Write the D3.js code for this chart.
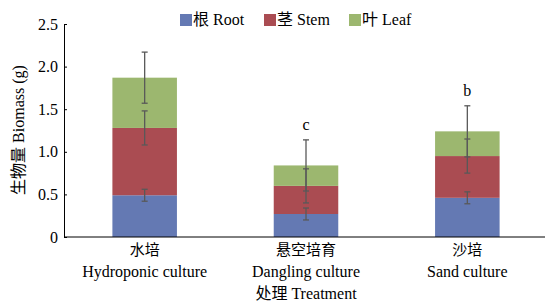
<!DOCTYPE html>
<html>
<head>
<meta charset="utf-8">
<script src="https://cdn.jsdelivr.net/npm/d3@7"></script>
<style>
    body { margin: 0; background: #fff; }
    svg text { font-family: "Liberation Serif", "Noto Sans CJK SC", serif; fill: #000; }
</style>
</head>
<body>
<div id="chart"></div>
<script>
// data
var treatmentsCn = ["水培", "悬空培育", "沙培"];
var treatmentsEn = ["Hydroponic culture", "Dangling culture", "Sand culture"];
var seriesNames = ["根 Root", "茎 Stem", "叶 Leaf"];
var rootVals = [0.49, 0.27, 0.46];
var stemVals = [0.79, 0.33, 0.49];
var leafVals = [0.59, 0.24, 0.29];
var rootErr = [0.07, 0.07, 0.07];
var stemErr = [0.2, 0.2, 0.2];
var leafErr = [0.3, 0.3, 0.3];
var sigLetters = ["", "c", "b"];
var yTicks = [0, 0.5, 1.0, 1.5, 2.0, 2.5];

var colors = ["#6479b3", "#aa4c52", "#9cb76f"];

var width = 545, height = 301;
var margin = {left: 64, top: 24, bottom: 64};

var svg = d3.select("#chart").append("svg")
    .attr("width", width)
    .attr("height", height);

// build rows for stacking
var rows = treatmentsCn.map(function (t, i) {
    return {
        key: t,
        root: rootVals[i], stem: stemVals[i], leaf: leafVals[i],
        err: [rootErr[i], stemErr[i], leafErr[i]]
    };
});
var stack = d3.stack().keys(["root", "stem", "leaf"]);
var series = stack(rows);

var x = d3.scaleBand()
    .domain(treatmentsCn)
    .range([margin.left, margin.left + 484])
    .padding(0);
var y = d3.scaleLinear()
    .domain([0, 2.5])
    .range([height - margin.bottom, margin.top]);

var barW = x.bandwidth() * 0.4;

// bars
svg.selectAll("g.layer")
    .data(series)
    .enter().append("g")
    .attr("class", "layer")
    .attr("fill", function (d, i) { return colors[i]; })
    .selectAll("rect")
    .data(function (d) { return d; })
    .enter().append("rect")
    .attr("x", function (d) { return x(d.data.key) + x.bandwidth() / 2 - barW / 2; })
    .attr("width", barW)
    .attr("y", function (d) { return y(d[1]); })
    .attr("height", function (d) { return y(d[0]) - y(d[1]); });

// error bars at top of each segment
series.forEach(function (layer, li) {
    layer.forEach(function (d) {
        var cx = x(d.data.key) + x.bandwidth() / 2;
        var e = d.data.err[li];
        var g = svg.append("g")
            .attr("stroke", "#595959")
            .attr("stroke-width", 1.3);
        g.append("line")
            .attr("x1", cx).attr("x2", cx)
            .attr("y1", y(d[1] + e)).attr("y2", y(d[1] - e));
        [d[1] + e, d[1] - e].forEach(function (v) {
            g.append("line")
                .attr("x1", cx - 3).attr("x2", cx + 3)
                .attr("y1", y(v)).attr("y2", y(v));
        });
    });
});

// significance letters
var topLayer = series[2];
topLayer.forEach(function (d, i) {
    if (!sigLetters[i]) return;
    svg.append("text")
        .attr("x", x(d.data.key) + x.bandwidth() / 2)
        .attr("y", y(d[1] + leafErr[i]) - 10)
        .attr("text-anchor", "middle")
        .style("font-size", "16px")
        .text(sigLetters[i]);
});

// y axis
var yAxis = d3.axisLeft(y)
    .tickValues(yTicks)
    .tickSizeInner(-3)
    .tickSizeOuter(0)
    .tickPadding(6)
    .tickFormat(function (d) { return d === 0 ? "0" : d3.format(".1f")(d); });
var yg = svg.append("g")
    .attr("transform", "translate(" + margin.left + ",0)")
    .call(yAxis);
yg.selectAll("text").style("font-size", "16px");
yg.selectAll("line, path").attr("stroke", "#000");

// x axis line
svg.append("line")
    .attr("x1", margin.left).attr("x2", width)
    .attr("y1", y(0)).attr("y2", y(0))
    .attr("stroke", "#000");

// x labels
treatmentsCn.forEach(function (t, i) {
    var cx = x(t) + x.bandwidth() / 2;
    svg.append("text")
        .attr("x", cx).attr("y", 255)
        .attr("text-anchor", "middle")
        .style("font-size", "15px")
        .text(t);
    svg.append("text")
        .attr("x", cx).attr("y", 277)
        .attr("text-anchor", "middle")
        .style("font-size", "16px")
        .text(treatmentsEn[i]);
});

svg.append("text")
    .attr("x", x(treatmentsCn[1]) + x.bandwidth() / 2)
    .attr("y", 299)
    .attr("text-anchor", "middle")
    .style("font-size", "16px")
    .text("处理 Treatment");

// y title
svg.append("text")
    .attr("transform", "translate(24,130) rotate(-90)")
    .attr("text-anchor", "middle")
    .style("font-size", "16px")
    .text("生物量 Biomass (g)");

// legend
var legendX = [180, 264, 349];
seriesNames.forEach(function (s, i) {
    svg.append("rect")
        .attr("x", legendX[i]).attr("y", 14)
        .attr("width", 12).attr("height", 12)
        .attr("fill", colors[i]);
    svg.append("text")
        .attr("x", legendX[i] + 13).attr("y", 25)
        .style("font-size", "16px")
        .text(s);
});
</script>
</body>
</html>
